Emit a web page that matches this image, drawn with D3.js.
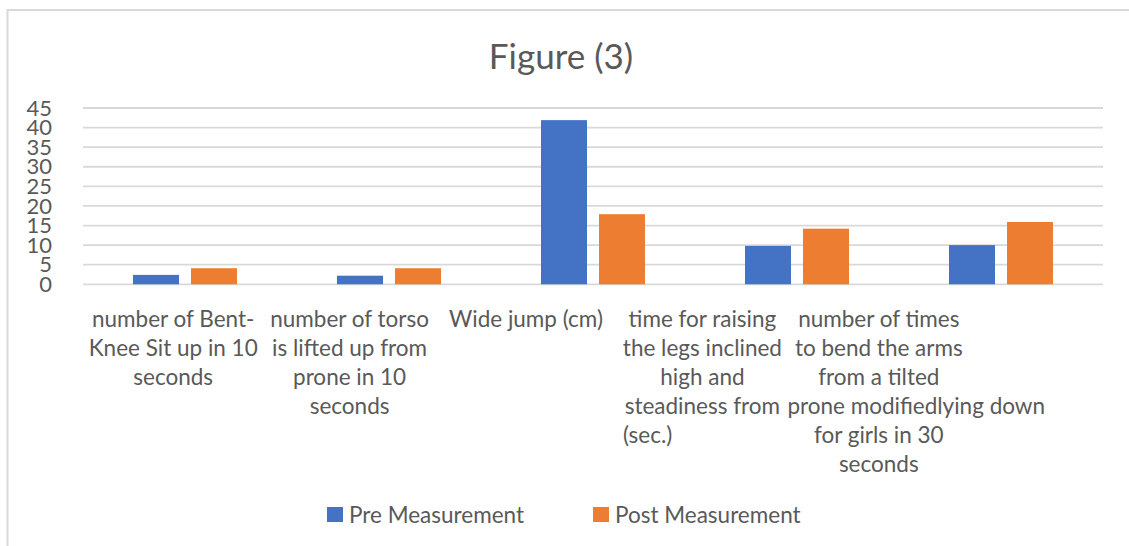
<!DOCTYPE html>
<html lang="en">
  <head>
    <meta charset="UTF-8" />
    <title>Figure (3)</title>
    <script src="https://d3js.org/d3.v7.min.js"></script>
    <style>
      body { margin: 0; background: #fff; }
      text { font-family: Lato, "Open Sans", sans-serif; fill: #595959; }
      .grid { stroke: #d9d9d9; stroke-width: 1.8; }
    </style>
  </head>
  <body>
    <script>
      // data
      const categories = ["bent", "torso", "jump", "legs", "arms"];
      const pad = n => "\u00a0".repeat(n);
      const categoryLines = [
        ["number of Bent-", "Knee Sit up in 10", "seconds"],
        ["number of torso", "is lifted up from", "prone in 10", "seconds"],
        ["Wide jump (cm)"],
        ["time for raising", "the legs inclined", "high and", "steadiness from",
          "(sec.)" + pad(19)],
        ["number of times", "to bend the arms", "from a tilted",
          pad(13) + "prone modifiedlying down",
          "for girls in 30", "seconds"]
      ];
      const seriesNames = ["Pre Measurement", "Post Measurement"];
      const preValues = [2.4, 2.2, 41.9, 9.8, 10.0];
      const postValues = [4.1, 4.1, 17.9, 14.2, 15.9];
      const yTicks = [0, 5, 10, 15, 20, 25, 30, 35, 40, 45];
      const colors = ["#4472c4", "#ed7d31"];

      let width = 1129, height = 546;

      const svg = d3.select("body")
        .append("svg")
        .attr("width", width)
        .attr("height", height);

      // chart border (only top and left show in the crop)
      svg.append("path")
        .attr("d", "M7.5,546 V10 H1129")
        .attr("fill", "none")
        .attr("stroke", "#d9d9d9")
        .attr("stroke-width", 2);

      svg.append("text")
        .attr("x", 561)
        .attr("y", 69)
        .attr("text-anchor", "middle")
        .style("font-size", "35px")
        .text("Figure (3)");

      let x = d3.scaleBand().domain(categories).range([83, 1103]);
      let x1 = d3.scaleBand().domain(seriesNames).range([0, x.bandwidth()])
        .paddingInner(0.207).paddingOuter(0.862);
      let y = d3.scaleLinear().domain([0, 45]).range([284.3, 108]);
      // the wrapped labels sit on a tighter spacing than the bars
      let xLabel = d3.scaleBand().domain(categories).range([85, 967]);

      svg.selectAll(".grid")
        .data(yTicks)
        .enter()
        .append("line")
        .attr("class", "grid")
        .attr("x1", 83)
        .attr("x2", 1103)
        .attr("y1", d => y(d))
        .attr("y2", d => y(d));

      svg.selectAll(".ytick")
        .data(yTicks)
        .enter()
        .append("text")
        .attr("class", "ytick")
        .attr("x", 52)
        .attr("y", d => y(d))
        .attr("dy", "0.35em")
        .attr("text-anchor", "end")
        .style("font-size", "22px")
        .text(d => d);

      let rows = categories.map((c, i) => ({ cat: c, values: [preValues[i], postValues[i]] }));

      let groups = svg.selectAll(".group")
        .data(rows)
        .enter()
        .append("g")
        .attr("class", "group")
        .attr("transform", d => "translate(" + x(d.cat) + ",0)");

      groups.selectAll("rect")
        .data(d => d.values.map((v, j) => ({ s: seriesNames[j], v: v, j: j })))
        .enter()
        .append("rect")
        .attr("x", d => x1(d.s))
        .attr("width", x1.bandwidth())
        .attr("y", d => y(d.v))
        .attr("height", d => y(0) - y(d.v))
        .attr("fill", d => colors[d.j]);

      categories.forEach(function (c, i) {
        let t = svg.append("text")
          .attr("text-anchor", "middle")
          .style("font-size", "22.5px");
        categoryLines[i].forEach(function (line, k) {
          t.append("tspan")
            .attr("x", xLabel(c) + xLabel.bandwidth() / 2)
            .attr("y", 327 + k * 29)
            .text(line);
        });
      });

      // legend
      let legendX = d3.scalePoint().domain(seriesNames).range([327, 593]);
      let legend = svg.selectAll(".legend")
        .data(seriesNames)
        .enter()
        .append("g")
        .attr("class", "legend")
        .attr("transform", d => "translate(" + legendX(d) + ",507)");
      legend.append("rect")
        .attr("width", 16)
        .attr("height", 15)
        .attr("fill", (d, i) => colors[i]);
      legend.append("text")
        .attr("x", 22)
        .attr("y", 8)
        .attr("dy", "0.35em")
        .style("font-size", "22.5px")
        .text(d => d);
    </script>
  </body>
</html>
